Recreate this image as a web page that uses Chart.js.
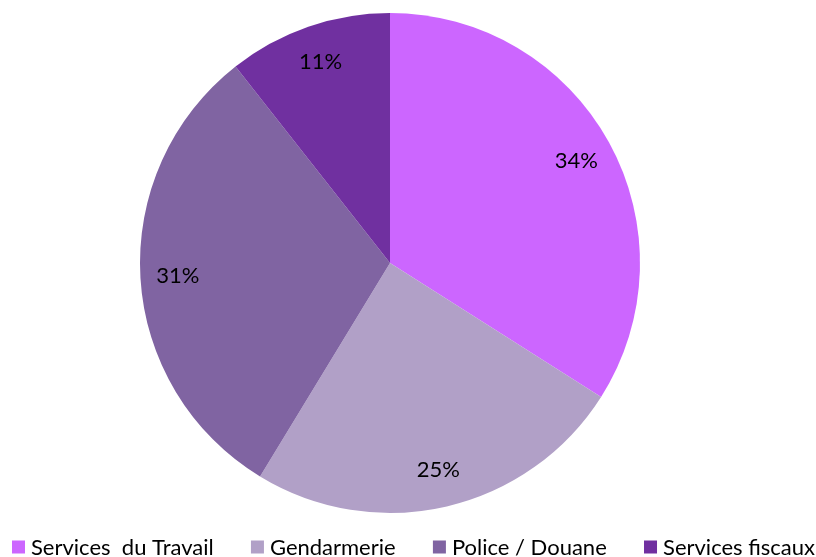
<!DOCTYPE html>
<html><head><meta charset="utf-8">
<script src="https://cdn.jsdelivr.net/npm/chart.js@4/dist/chart.umd.min.js"></script>
<style>html,body{margin:0;padding:0;background:#fff}#wrap{width:816px;height:557px}</style>
</head><body><div id="wrap"><canvas id="c" width="816" height="557"></canvas></div>
<script>
const categories = ["Services  du Travail", "Gendarmerie", "Police / Douane", "Services fiscaux"];
const values = [34.0, 24.7, 30.7, 10.6];
const colors = ["#CC66FF", "#B1A0C7", "#8064A2", "#7030A0"];
const FONT = "Lato, 'Open Sans', sans-serif";

const labelPlugin = {
  id: 'pctLabels',
  afterDatasetsDraw(chart) {
    const ctx = chart.ctx;
    const meta = chart.getDatasetMeta(0);
    const total = values.reduce((a, b) => a + b, 0);
    ctx.save();
    ctx.font = "22px " + FONT;
    ctx.fillStyle = "#000";
    ctx.textAlign = "center";
    ctx.textBaseline = "middle";
    meta.data.forEach((arc, i) => {
      const p = arc.getProps(['x', 'y', 'startAngle', 'endAngle', 'outerRadius'], true);
      const mid = (p.startAngle + p.endAngle) / 2;
      const r = p.outerRadius * 0.85;
      const txt = Math.round(values[i] / total * 100) + "%";
      ctx.fillText(txt, p.x + Math.cos(mid) * r, p.y + Math.sin(mid) * r);
    });
    ctx.restore();
  }
};

const legendPlugin = {
  id: 'customLegend',
  afterDraw(chart) {
    const ctx = chart.ctx;
    ctx.save();
    ctx.font = "22px " + FONT;
    ctx.textBaseline = "middle";
    const box = 13, gapBox = 6;
    const widths = categories.map(t => box + gapBox + ctx.measureText(t).width);
    const sum = widths.reduce((a, b) => a + b, 0);
    const left = 12, right = 815;
    const gapItem = (right - left - sum) / (categories.length - 1);
    let x = left;
    const y = 547;
    categories.forEach((t, i) => {
      ctx.fillStyle = colors[i];
      ctx.fillRect(x, y - box / 2, box, box);
      ctx.fillStyle = "#000";
      ctx.fillText(t, x + box + gapBox, y + 1);
      x += widths[i] + gapItem;
    });
    ctx.restore();
  }
};

new Chart(document.getElementById('c'), {
  type: 'pie',
  data: {
    labels: categories,
    datasets: [{ data: values, backgroundColor: colors, borderWidth: 0 }]
  },
  options: {
    responsive: false,
    animation: false,
    layout: { padding: { top: 13, bottom: 44, left: 0, right: 36 } },
    plugins: { legend: { display: false }, tooltip: { enabled: false } }
  },
  plugins: [labelPlugin, legendPlugin]
});
</script></body></html>
